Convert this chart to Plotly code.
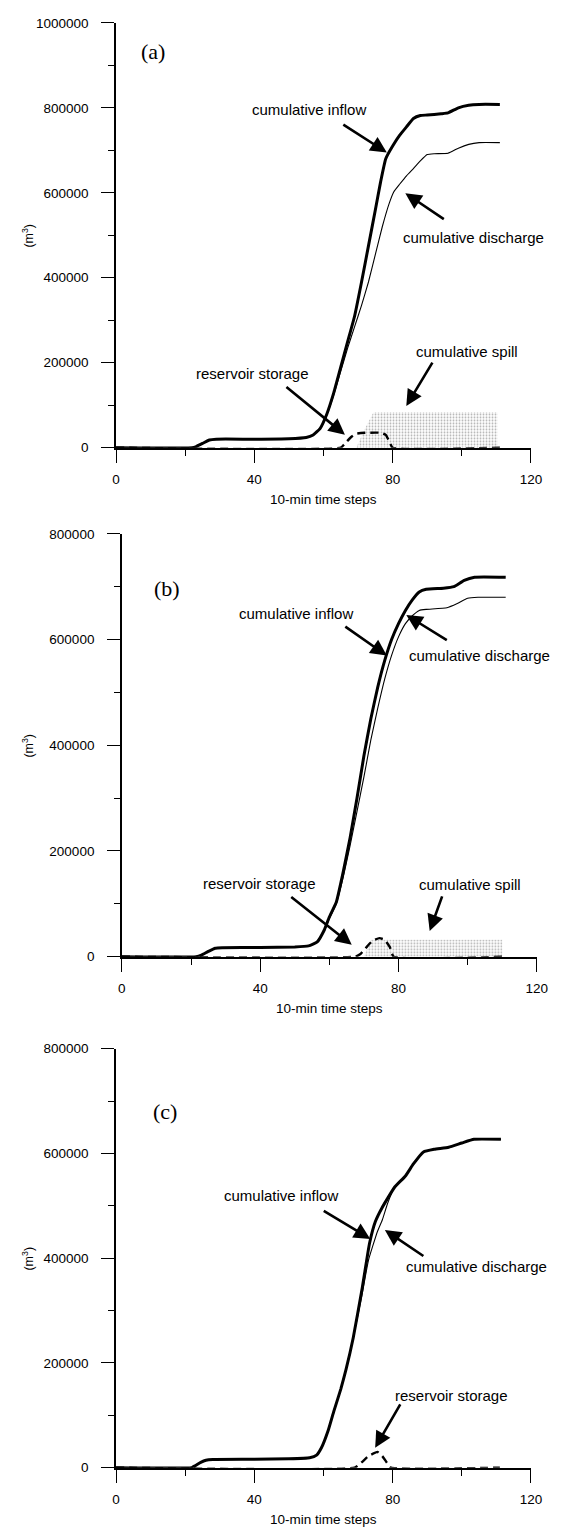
import plotly.graph_objects as go

W, H = 579, 1540

# ---------------- data ----------------
# Panel (a)
a_inflow_x = [0, 22, 23, 25, 27, 29, 40, 50, 55, 57, 59, 61, 63, 65, 67, 69, 71, 73, 75, 76.5, 78, 80, 82, 84, 86, 88, 90, 94, 96, 99, 102, 105, 111]
a_inflow_y = [0, 0, 2000, 10000, 18000, 20000, 20000, 21000, 24000, 30000, 45000, 80000, 130000, 190000, 250000, 310000, 390000, 475000, 560000, 625000, 680000, 710000, 735000, 755000, 775000, 782000, 783000, 786000, 788000, 800000, 806000, 808000, 808000]
a_dis_x = [0, 22, 23, 25, 27, 29, 40, 50, 55, 57, 59, 61, 63, 65, 67, 69, 71, 73, 75, 77, 79, 80.3, 82, 84, 86, 88, 90, 92, 96, 99, 102, 105, 111]
a_dis_y = [0, 0, 2000, 10000, 18000, 20000, 20000, 21000, 24000, 30000, 45000, 78000, 125000, 180000, 235000, 285000, 335000, 390000, 455000, 520000, 575000, 602000, 620000, 640000, 657000, 675000, 690000, 692000, 693000, 705000, 714000, 718000, 718000]
a_sto_x = [0, 65, 66, 68, 69.5, 72, 76.5, 78, 79, 80, 111]
a_sto_y = [0, 0, 8000, 25000, 33000, 35000, 35000, 30000, 15000, 0, 0]
a_spill_x = [69.5, 72, 74.5, 110.3, 110.3]
a_spill_y = [0, 45000, 84000, 84000, 0]

# Panel (b)
b_inflow_x = [0, 21.5, 23, 25, 27, 29, 40, 50, 54, 56.5, 58.5, 60, 62, 64, 66, 68, 70, 72, 74, 76, 78, 80, 82, 84, 86, 88, 93, 96, 99, 102, 111]
b_inflow_y = [0, 0, 3000, 10000, 16000, 17000, 17500, 18500, 20500, 28000, 50000, 75000, 103000, 160000, 225000, 300000, 380000, 450000, 510000, 560000, 600000, 630000, 655000, 675000, 690000, 695000, 697000, 700000, 712000, 718000, 718000]
b_dis_x = [0, 21.5, 23, 25, 27, 29, 40, 50, 54, 56.5, 58.5, 60, 62, 64, 66, 68, 70, 72, 74, 76, 78, 80, 82, 84, 86, 88, 94, 97, 100, 103, 111]
b_dis_y = [0, 0, 3000, 10000, 16000, 17000, 17500, 18500, 20500, 28000, 48000, 72000, 100000, 150000, 210000, 275000, 340000, 410000, 470000, 525000, 570000, 605000, 630000, 645000, 655000, 657000, 660000, 668000, 678000, 680000, 680000]
b_sto_x = [0, 67.5, 69, 71, 72.5, 74.5, 76, 77.5, 78.6, 111]
b_sto_y = [0, 0, 5000, 20000, 30000, 35000, 32000, 18000, 0, 0]
b_spill_x = [70, 72, 110, 110]
b_spill_y = [0, 32000, 32000, 0]

# Panel (c)
c_inflow_x = [0, 21.9, 23, 24.5, 26, 28, 40, 50, 56, 58, 59.4, 61.4, 63, 65, 66.5, 68.6, 71.2, 73.3, 75, 76.9, 80.6, 83.7, 86, 88.9, 92, 96.2, 100, 103.5, 111.3]
c_inflow_y = [0, 0, 4000, 10000, 14000, 15500, 16000, 17000, 19000, 24000, 38000, 72000, 108000, 150000, 187000, 248000, 343000, 428000, 470000, 496000, 536000, 557000, 580000, 603000, 608000, 612000, 620000, 627000, 627000]
c_dis_x = [0, 21.9, 23, 24.5, 26, 28, 40, 50, 56, 58, 59.4, 61.4, 63, 65, 66.5, 68.6, 71, 73, 75.6, 77, 78.5, 80.6, 83.7, 86, 88.9, 92, 96.2, 100, 103.5, 111.3]
c_dis_y = [0, 0, 4000, 10000, 14000, 15500, 16000, 17000, 19000, 24000, 38000, 72000, 108000, 150000, 187000, 248000, 325000, 396000, 451000, 473000, 504000, 536000, 557000, 580000, 603000, 608000, 612000, 620000, 627000, 627000]
c_sto_x = [0, 69, 71, 73, 75.6, 77, 78.5, 79.5, 111]
c_sto_y = [0, 0, 10000, 22000, 30000, 22000, 8000, 0, 0]

x_ticks = [0, 40, 80, 120]
y_max = {"a": 1000000, "b": 800000, "c": 800000}

# ---------------- figure ----------------
fig = go.Figure()
FONT = "Liberation Sans, Arial, sans-serif"
SERIF = "Liberation Serif, Times New Roman, serif"

panels = [
    ("a", "x", "y", a_inflow_x, a_inflow_y, a_dis_x, a_dis_y, a_sto_x, a_sto_y, a_spill_x, a_spill_y),
    ("b", "x2", "y2", b_inflow_x, b_inflow_y, b_dis_x, b_dis_y, b_sto_x, b_sto_y, b_spill_x, b_spill_y),
    ("c", "x3", "y3", c_inflow_x, c_inflow_y, c_dis_x, c_dis_y, c_sto_x, c_sto_y, None, None),
]

for name, xr, yr, ix, iy, dx, dy, sx, sy, spx, spy in panels:
    if spx is not None:
        fig.add_trace(go.Scatter(
            x=spx, y=spy, xaxis=xr, yaxis=yr, mode="lines", fill="toself",
            line=dict(width=0, color="rgba(0,0,0,0)"),
            fillcolor="rgba(0,0,0,0)",
            fillpattern=dict(shape=".", size=3, solidity=0.3, fgcolor="#666666", bgcolor="white"),
            showlegend=False, hoverinfo="skip"))
    fig.add_trace(go.Scatter(x=sx, y=sy, xaxis=xr, yaxis=yr, mode="lines",
                             line=dict(color="black", width=2.4, dash="8px,5px",
                                       shape="spline", smoothing=0.4),
                             showlegend=False))
    fig.add_trace(go.Scatter(x=dx, y=dy, xaxis=xr, yaxis=yr, mode="lines",
                             line=dict(color="black", width=1.1, shape="spline", smoothing=0.4),
                             showlegend=False))
    fig.add_trace(go.Scatter(x=ix, y=iy, xaxis=xr, yaxis=yr, mode="lines",
                             line=dict(color="black", width=3, shape="spline", smoothing=0.4),
                             showlegend=False))

# pixel geometry of each panel
geo = {
    "a": dict(xl=115, xr=541, yb=445, yt=16),
    "b": dict(xl=121, xr=547, yb=959, yt=532),
    "c": dict(xl=115, xr=541, yb=1475, yt=1052),
}

def xdom(g):
    return [g["xl"] / W, g["xr"] / W]

def ydom(g):
    return [1 - g["yb"] / H, 1 - g["yt"] / H]

axis_common = dict(showline=True, linecolor="black", linewidth=1.5, showgrid=False,
                   zeroline=False, ticks="outside", tickcolor="black", tickwidth=1.3,
                   tickfont=dict(family=FONT, size=13.5, color="black"))

for i, name in enumerate(["a", "b", "c"]):
    g = geo[name]
    sfx = "" if i == 0 else str(i + 1)
    fig.update_layout(**{
        "xaxis" + sfx: dict(axis_common, domain=xdom(g), anchor="y" + sfx, range=[0, 120],
                             tickvals=x_ticks, ticklen=14, ticklabelstandoff=4,
                             minor=dict(dtick=20, tick0=0, ticklen=7, ticks="outside",
                                        tickcolor="black", tickwidth=1.3)),
        "yaxis" + sfx: dict(axis_common, domain=ydom(g), anchor="x" + sfx,
                             range=[0, y_max[name]], dtick=200000, tickformat="d",
                             ticklen=13, ticklabelstandoff=10,
                             minor=dict(dtick=100000, ticklen=6, ticks="outside",
                                        tickcolor="black", tickwidth=1.3)),
    })

def P(px, py):
    return px / W, 1 - py / H

ann = []

def text(px, py, s, size=15, family=FONT, angle=0):
    x, y = P(px, py)
    ann.append(dict(x=x, y=y, xref="paper", yref="paper", text=s, showarrow=False,
                    font=dict(family=family, size=size, color="black"),
                    xanchor="center", yanchor="middle", textangle=angle))

def arrow(tx, ty, hx, hy):
    x, y = P(hx, hy)
    ann.append(dict(x=x, y=y, xref="paper", yref="paper", text="", showarrow=True,
                    ax=tx - hx, ay=ty - hy, axref="pixel", ayref="pixel",
                    arrowhead=2, arrowsize=1.25, arrowwidth=2.6, arrowcolor="black",
                    standoff=0, startstandoff=0))

# panel labels
text(153, 45, "(a)", size=22, family=SERIF)
text(167, 587, "(b)", size=22, family=SERIF)
text(165, 1115, "(c)", size=22, family=SERIF)

# axis titles
for name in ["a", "b", "c"]:
    g = geo[name]
    text(25, (g["yb"] + g["yt"]) / 2, "(m<sup>3</sup>)", size=12.5, angle=-90)
    text((g["xl"] + g["xr"]) / 2, g["yb"] + 52, "10-min time steps", size=13.5)

# panel (a)
text(313, 104, "cumulative inflow")
arrow(348, 118, 393, 147)
text(482, 233, "cumulative discharge")
arrow(452, 215, 412, 188)
text(255, 370, "reservoir storage")
arrow(290, 383, 350, 432)
text(475, 348, "cumulative spill")
arrow(440, 358, 413, 403)

# panel (b)
text(300, 612, "cumulative inflow")
arrow(350, 625, 393, 655)
text(488, 655, "cumulative discharge")
arrow(455, 640, 413, 614)
text(262, 885, "reservoir storage")
arrow(295, 898, 357, 947)
text(478, 886, "cumulative spill")
arrow(450, 897, 437, 933)

# panel (c)
text(284, 1200, "cumulative inflow")
arrow(328, 1215, 376, 1244)
text(485, 1272, "cumulative discharge")
arrow(431, 1262, 391, 1235)
text(459, 1402, "reservoir storage")
arrow(407, 1410, 381, 1455)

fig.update_layout(width=W, height=H, margin=dict(l=0, r=0, t=0, b=0),
                  paper_bgcolor="white", plot_bgcolor="white", annotations=ann,
                  showlegend=False)

fig.write_html("out.html", config={"displayModeBar": False},
               post_script="document.body.style.margin='0';document.body.style.overflow='hidden';")
